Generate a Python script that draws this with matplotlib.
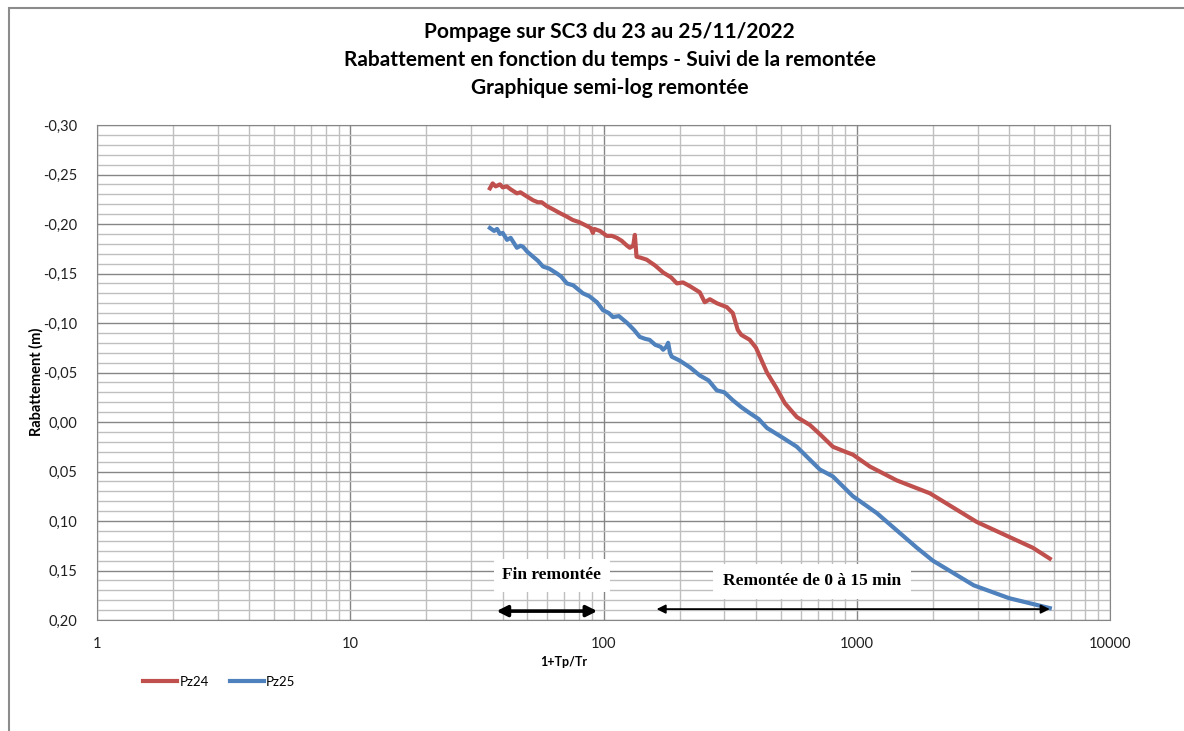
import numpy as np
import matplotlib.pyplot as plt
from matplotlib.patches import Rectangle
from matplotlib.ticker import FixedLocator, FuncFormatter, LogLocator, NullFormatter

plt.rcParams['font.family'] = ['Lato', 'DejaVu Sans']

# data (x = 1+Tp/Tr, y = rabattement en m)
pz24_x = [35.6, 36.5, 37.5, 39, 40, 41.5, 43, 45.5, 47, 49, 52.7, 55, 57, 59.8, 63,
          67.3, 71, 75.7, 80, 86, 89, 90.8, 92, 96.8, 103, 108, 113, 118, 124, 127,
          131, 133, 135, 140, 148, 160, 172, 185, 195, 206, 220, 240, 251, 263, 280,
          307, 324, 339, 350, 378, 400, 442, 480, 520, 580, 653, 720, 805, 900, 966,
          1127, 1439, 1944, 2979, 4955, 5785]
pz24_y = [-0.236, -0.241, -0.238, -0.240, -0.237, -0.238, -0.235, -0.231, -0.232, -0.229,
          -0.224, -0.222, -0.222, -0.218, -0.215, -0.211, -0.208, -0.204, -0.202, -0.198,
          -0.196, -0.191, -0.195, -0.193, -0.188, -0.188, -0.186, -0.183, -0.178, -0.176,
          -0.178, -0.189, -0.167, -0.166, -0.164, -0.158, -0.151, -0.146, -0.140, -0.141,
          -0.137, -0.131, -0.121, -0.124, -0.120, -0.116, -0.110, -0.093, -0.088, -0.083,
          -0.075, -0.050, -0.035, -0.019, -0.005, 0.003, 0.013, 0.025, 0.030, 0.033,
          0.045, 0.059, 0.072, 0.101, 0.127, 0.138]

pz25_x = [35.6, 37, 38, 39, 40, 41.6, 43, 45.5, 47, 48.1, 50, 52.7, 55, 57.7, 61, 65.5,
          68, 71.7, 76, 82.9, 88, 94.2, 99.5, 105, 109, 115, 124, 132, 139, 146, 152,
          160, 168, 172, 177, 180, 183, 186, 200, 220, 240, 260, 280, 300, 324, 350,
          378, 410, 442, 511, 580, 635, 715, 805, 966, 1200, 1727, 1996, 2898, 4000, 5785]
pz25_y = [-0.196, -0.193, -0.195, -0.190, -0.191, -0.184, -0.186, -0.176, -0.178, -0.177,
          -0.172, -0.167, -0.163, -0.157, -0.155, -0.150, -0.147, -0.140, -0.138, -0.130,
          -0.127, -0.121, -0.113, -0.110, -0.106, -0.107, -0.100, -0.093, -0.086, -0.084,
          -0.083, -0.078, -0.076, -0.073, -0.076, -0.080, -0.070, -0.066, -0.062, -0.055,
          -0.047, -0.042, -0.032, -0.030, -0.022, -0.015, -0.009, -0.003, 0.006, 0.016,
          0.025, 0.035, 0.048, 0.055, 0.075, 0.092, 0.127, 0.140, 0.165, 0.178, 0.188]

titles = ["Pompage sur SC3 du 23 au 25/11/2022",
          "Rabattement en fonction du temps - Suivi de la remontée",
          "Graphique semi-log remontée"]

fig = plt.figure(figsize=(11.84, 7.31), dpi=100)
ax = fig.add_axes([97/1184, 1-620/731, (1110-97)/1184, (620-125)/731])

ax.plot(pz24_x, pz24_y, color='#C0504D', lw=3, label='Pz24', zorder=3)
ax.plot(pz25_x, pz25_y, color='#4F81BD', lw=3, label='Pz25', zorder=3)

ax.set_xscale('log')
ax.set_xlim(1, 10000)
ax.set_ylim(0.20, -0.30)
ax.yaxis.set_major_locator(FixedLocator(np.arange(-0.30, 0.201, 0.05)))
ax.yaxis.set_minor_locator(FixedLocator(np.arange(-0.30, 0.201, 0.01)))
ax.yaxis.set_major_formatter(FuncFormatter(lambda v, p: f"{v:.2f}".replace('.', ',').replace('-0,00', '0,00')))
ax.xaxis.set_major_locator(LogLocator(base=10, numticks=10))
ax.xaxis.set_minor_locator(LogLocator(base=10, subs=np.arange(2, 10), numticks=20))
ax.xaxis.set_minor_formatter(NullFormatter())
ax.xaxis.set_major_formatter(FuncFormatter(lambda v, p: f"{v:.0f}"))

ax.grid(which='major', color='#868686', lw=1.0)
ax.grid(which='minor', color='#BFBFBF', lw=1.0)
ax.set_axisbelow(True)
for s in ax.spines.values():
    s.set_color('#868686')
ax.tick_params(which='both', length=0)
ax.tick_params(axis='y', labelsize=10.5, pad=14, labelcolor='#202020')
ax.tick_params(axis='x', labelsize=10.5, pad=12, labelcolor='#202020')

for i, t in enumerate(titles):
    fig.text(0.515, 1-(32+28*i)/731, t, ha='center', va='center', fontsize=15, fontweight='bold')

fig.text(36/1184, 1-382/731, 'Rabattement (m)', rotation=90, ha='center', va='center',
         fontsize=10.5, fontweight='bold')
fig.text(564/1184, 1-662/731, '1+Tp/Tr', ha='center', va='center', fontsize=9, fontweight='bold')

# annotations
serif = ['Liberation Serif', 'DejaVu Serif']
ax.text(62.6, 0.155, 'Fin remontée', ha='center', va='center', fontsize=12.5, fontweight='bold',
        family=serif, bbox=dict(facecolor='white', edgecolor='none', pad=6), zorder=4)
ax.text(665, 0.161, 'Remontée de 0 à 15 min', ha='center', va='center', fontsize=12.5,
        fontweight='bold', family=serif,
        bbox=dict(facecolor='white', edgecolor='none', pad=7), zorder=4)
ax.annotate('', xy=(94.5, 0.191), xytext=(37.8, 0.191),
            arrowprops=dict(arrowstyle='<|-|>', lw=2.6, color='black', mutation_scale=16,
                            shrinkA=0, shrinkB=0), zorder=5)
ax.annotate('', xy=(5785, 0.189), xytext=(162, 0.189),
            arrowprops=dict(arrowstyle='<|-|>', lw=1.3, color='black', mutation_scale=13,
                            shrinkA=0, shrinkB=0), zorder=5)

fig.legend(loc='center left', bbox_to_anchor=(143/1184, 1-682/731), ncol=2, frameon=False,
           fontsize=9.5, handlelength=2.6, handletextpad=0.15, columnspacing=1.6,
           borderpad=0, borderaxespad=0)

fig.patches.append(Rectangle((9/1184, -0.1), 2, 1-8/731+0.1, transform=fig.transFigure,
                             fill=False, edgecolor='#8C8C8C', lw=1.5))

fig.savefig('out.png', dpi=100)
